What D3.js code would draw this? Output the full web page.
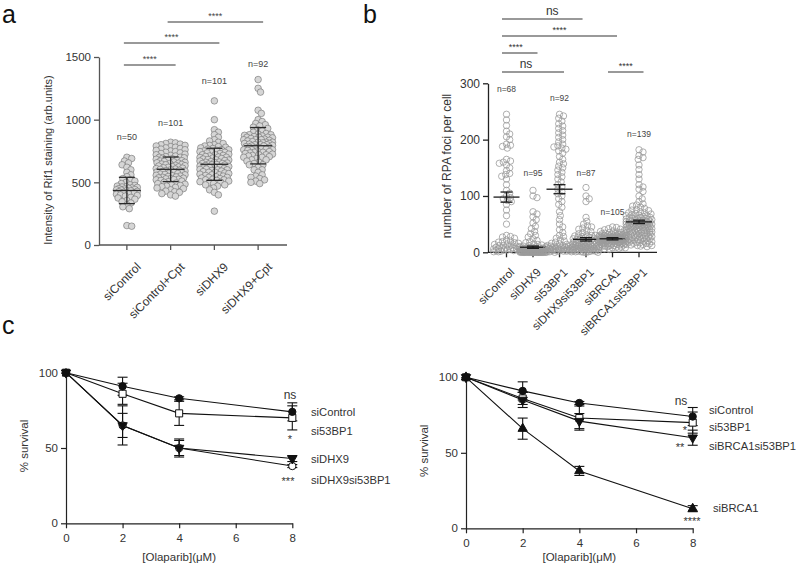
<!DOCTYPE html>
<html><head><meta charset="utf-8">
<script src="https://cdn.jsdelivr.net/npm/d3@7/dist/d3.min.js"></script>
<style>body{margin:0;background:#fff}svg{font-family:"Liberation Sans",Arial,sans-serif}</style>
</head><body><svg id="fig" width="796" height="563"></svg>
<script>
// ---------- Panel a data ----------
const aCategories = ["siControl","siControl+Cpt","siDHX9","siDHX9+Cpt"];
const aN = [50,101,101,92];
const aMean = [435,604,644,792];
const aSD = [105,98,128,145];
const aCtrl = [150,155,290,305,320,335,345,355,365,375,380,390,395,400,405,410,415,420,425,428,432,435,438,440,443,446,450,453,456,460,463,466,470,475,480,490,500,510,520,530,545,560,580,600,620,640,655,670,690,700];
const aCtrlCpt = [390,400,410,420,425,430,440,450,455,460,465,470,475,480,485,490,495,500,505,510,515,520,522,525,528,530,533,536,540,543,546,550,553,556,560,563,566,570,573,576,580,583,586,590,593,596,600,603,606,610,613,616,620,623,626,630,633,636,640,643,646,650,653,656,660,663,666,670,673,676,680,684,688,692,696,700,705,710,715,720,725,730,735,740,745,750,755,760,765,770,775,780,785,790,795,800,805,810,815,820,700];
const aDHX9 = [270,400,420,440,455,470,480,490,500,505,510,515,520,525,530,535,540,545,550,555,560,565,570,575,580,585,590,595,600,603,606,610,614,618,622,626,630,634,638,642,646,650,654,658,662,666,670,674,678,682,686,690,694,698,702,706,710,715,720,725,730,735,740,745,750,755,760,765,770,775,780,785,790,795,800,810,820,830,840,860,880,900,920,1000,1150,600,620,640,660,680,560,580,540,520,500,480,700,720,740,760,650];
const aDHX9Cpt = [490,500,510,520,530,540,550,560,580,600,620,640,650,660,670,680,690,700,705,710,715,720,725,730,735,740,745,750,755,760,765,770,775,780,785,790,795,800,805,810,815,820,825,830,835,840,845,850,855,860,865,870,875,880,885,890,900,910,920,930,940,950,960,970,985,1000,1050,1075,1220,1250,1320,760,780,800,820,840,860,740,720,700,680,820,800,780,760,860,880,640,600,840,810,790];
const aValues = [aCtrl,aCtrlCpt,aDHX9,aDHX9Cpt];
const aTicks = [0,500,1000,1500];
const aSig = [[0,1,"****"],[0,2,"****"],[1,3,"****"]];

// ---------- Panel b data ----------
const bCategories = ["siControl","siDHX9","si53BP1","siDHX9si53BP1","siBRCA1","siBRCA1si53BP1"];
const bN = [68,95,92,87,105,139];
const bMean = [98,9,112,23,24,54];
const bSEM = [9,2,8,3,2,3];
const bCtrl = [245,235,225,215,210,205,200,192,190,188,185,165,162,160,158,155,150,145,140,138,135,130,120,110,105,100,97,95,92,90,85,75,65,50,30,28,27,25,22,20,19,18,17,16,15,14,13,12,12,11,10,10,9,8,8,7,6,6,5,5,4,4,3,3,2,2,1,1];
const bDHX9 = [110,100,97,72,68,63,58,52,46,42,37,33,30,27,24,21,19,17,15,14,13,12,11,10,9,9,8,8,8,7,7,7,7,6,6,6,6,5,5,5,5,5,4,4,4,4,4,4,3,3,3,3,3,3,3,2,2,2,2,2,2,2,2,1,1,1,1,1,1,1,1,1,1,0,0,0,0,0,0,0,0,0,0,0,0,0,0,0,0,0,0,0,0,0,0];
const b53 = [245,242,238,233,228,224,220,216,212,208,204,200,196,192,189,187,185,183,180,176,170,165,160,157,153,150,146,142,138,134,130,125,120,116,112,108,104,100,95,90,85,80,72,65,58,50,45,40,35,30,28,25,22,20,18,16,15,14,13,12,12,11,11,10,10,9,9,8,8,8,7,7,7,6,6,6,5,5,5,4,4,4,3,3,3,2,2,2,1,1,0,0];
const bDHX9s53 = [115,100,95,90,62,55,50,47,45,43,41,39,37,35,33,31,30,29,28,27,26,25,24,23,22,21,20,20,19,19,18,18,17,17,16,16,15,15,14,14,13,13,12,12,11,11,10,10,10,9,9,9,8,8,8,7,7,7,6,6,6,5,5,5,4,4,4,3,3,3,2,2,2,1,1,1,0,0,0,30,28,26,24,22,20,18,16];
const bBRCA1 = [45,44,42,41,40,39,38,37,36,35,35,34,34,33,33,32,32,31,31,30,30,30,29,29,29,28,28,28,27,27,27,26,26,26,26,25,25,25,25,24,24,24,24,23,23,23,23,22,22,22,22,21,21,21,21,20,20,20,20,19,19,19,18,18,18,17,17,17,16,16,16,15,15,15,14,14,13,13,12,12,11,11,10,10,9,9,8,8,7,6,5,24,25,26,23,22,27,21,28,20,25,24,23,26,22];
const bBRCA1s53 = [182,178,172,168,165,155,147,138,130,120,116,112,108,100,95,90,86,84,82,80,78,76,75,74,72,70,69,68,67,66,65,64,63,62,61,60,60,59,58,57,56,56,55,54,54,53,52,52,51,50,50,49,48,48,47,46,46,45,44,44,43,42,42,41,40,40,39,38,38,37,36,36,35,34,34,33,32,32,31,30,30,29,28,28,27,26,26,25,24,24,23,22,22,21,20,20,19,18,18,17,16,16,15,14,14,13,12,12,11,10,45,50,55,60,35,40,30,25,65,70,48,52,44,56,38,42,58,62,46,54,50,36,33,28,20,22,47,53,49,51];
const bValues = [bCtrl,bDHX9,b53,bDHX9s53,bBRCA1,bBRCA1s53];
const bTicks = [0,100,200,300];
// [from index, to index (fractional allowed), label, level]
const bSig = [[0,2.7,"ns",0],[0,4,"****",1],[0,1,"****",2],[0,2,"ns",3],[4,5,"****",3]];

// ---------- Panel c data ----------
const cDoses = [0,2,4,8];
const cTicksX = [0,2,4,6,8];
const cTicksY = [0,50,100];
const cLeftSeries = ["siControl","si53BP1","siDHX9","siDHX9si53BP1"];
const cLeftCtrl = [100,91,83,74];   const cLeftCtrlErr = [0,6,1,6];
const cLeft53 = [100,86,73,70];     const cLeft53Err = [0,7,8,8];
const cLeftDHX9 = [100,65,50,43];   const cLeftDHX9Err = [0,8,5,2];
const cLeftDS = [100,65,50,38];     const cLeftDSErr = [0,13,6,1];
const cLeftSig = ["ns","*","","***"];
const cRightSeries = ["siControl","si53BP1","siBRCA1si53BP1","siBRCA1"];
const cRightCtrl = [100,91,83,74];  const cRightCtrlErr = [0,6,1,6];
const cRight53 = [100,86,73,70];    const cRight53Err = [0,4,8,7];
const cRightBS = [100,85,71,60];    const cRightBSErr = [0,5,5,5];
const cRightBRCA1 = [100,66,38,13]; const cRightBRCA1Err = [0,7,3,2];
const cRightSig = ["ns","*","**","****"];

const svg = d3.select("#fig");
const axisCol = "#555", txtCol = "#333";
const FONT = "Liberation Sans, Arial, sans-serif";

function panelLetter(t,x,y){svg.append("text").attr("x",x).attr("y",y).attr("font-size",25).attr("fill","#111").text(t);}

function swarm(vals, y, cx, minD, maxW){
  const pts = vals.map(v=>({v, y:y(v)})).sort((a,b)=>a.y-b.y);
  const placed=[];
  for(const p of pts){
    let best=0, bestScore=-1;
    for(let k=0;;k++){
      const off=(k%2?1:-1)*Math.ceil(k/2)*0.8;
      if(Math.abs(off)>maxW) break;
      let md=Infinity;
      for(const q of placed){const dy=q.y-p.y; if(Math.abs(dy)<minD){md=Math.min(md,Math.hypot(q.off-off,dy));}}
      if(md>=minD){best=off;bestScore=Infinity;break;}
      if(md>bestScore){bestScore=md;best=off;}
    }
    p.off=best; placed.push(p);
  }
  return pts.map(p=>({x:cx+p.off,y:p.y}));
}

// ================= Panel a =================
panelLetter("a",2,23);
{
  const x = d3.scaleBand().domain(aCategories).range([105,280]);
  const xc = c=>x(c)+x.bandwidth()/2;
  const y = d3.scaleLinear().domain([0,1500]).range([245,57]);
  const g = svg.append("g");
  const ya = g.append("g").attr("transform","translate(99,0)").call(d3.axisLeft(y).tickValues(aTicks).tickFormat(d3.format("d")).tickSize(5).tickSizeOuter(0));
  ya.select(".domain").attr("stroke",axisCol).attr("stroke-width",1.3);
  ya.selectAll(".tick line").attr("stroke",axisCol).attr("stroke-width",1.3);
  ya.selectAll(".tick text").attr("font-size",11.5).attr("fill",txtCol).attr("font-family",FONT);
  g.append("line").attr("x1",99).attr("x2",287).attr("y1",245).attr("y2",245).attr("stroke",axisCol).attr("stroke-width",1.3);
  const xa = g.append("g").attr("transform","translate(0,245)").call(d3.axisBottom(x).tickSize(5).tickSizeOuter(0));
  xa.select(".domain").remove();
  xa.selectAll(".tick line").attr("stroke",axisCol).attr("stroke-width",1.3);
  xa.selectAll(".tick text").attr("font-size",12).attr("fill",txtCol).attr("font-family",FONT)
    .attr("text-anchor","end").attr("dy",0).attr("transform","translate(9,17) rotate(-45)");
  g.append("text").attr("transform","translate(52,160) rotate(-90)").attr("text-anchor","middle")
    .attr("font-size",11).attr("fill",txtCol).text("Intensity of Rif1 staining (arb.units)");
  const nOff=[20,19,20,16];
  aCategories.forEach((c,i)=>{
    const pts = swarm(aValues[i], y, xc(c), 4.2, i===0?11:15);
    g.append("g").selectAll("circle").data(pts).join("circle").attr("cx",d=>d.x).attr("cy",d=>d.y).attr("r",3.3)
      .attr("fill","#d6d6d6").attr("stroke","#6d6d6d").attr("stroke-width",0.6);
    const cx = xc(c);
    const eg = g.append("g").attr("stroke","#2a2a2a").attr("stroke-width",1.3);
    eg.append("line").attr("x1",cx-14).attr("x2",cx+14).attr("y1",y(aMean[i])).attr("y2",y(aMean[i]));
    eg.append("line").attr("x1",cx).attr("x2",cx).attr("y1",y(aMean[i]-aSD[i])).attr("y2",y(aMean[i]+aSD[i]));
    [aMean[i]-aSD[i],aMean[i]+aSD[i]].forEach(v=>eg.append("line").attr("x1",cx-8).attr("x2",cx+8).attr("y1",y(v)).attr("y2",y(v)));
    g.append("text").attr("x",cx).attr("y",y(d3.max(aValues[i]))-nOff[i]+3).attr("text-anchor","middle").attr("font-size",9).attr("fill","#444").text("n="+aN[i]);
  });
  const lvls=[65,43,22];
  aSig.forEach((s,k)=>{
    const x1=xc(aCategories[s[0]])-3, x2=xc(aCategories[s[1]])+5;
    g.append("line").attr("x1",x1).attr("x2",x2).attr("y1",lvls[k]).attr("y2",lvls[k]).attr("stroke","#777").attr("stroke-width",1.4);
    g.append("text").attr("x",(x1+x2)/2).attr("y",lvls[k]-3).attr("text-anchor","middle").attr("font-size",9).attr("fill","#444").text(s[2]);
  });
}

// ================= Panel b =================
panelLetter("b",363,23);
{
  const x = d3.scaleBand().domain(bCategories).range([493.25,652.25]);
  const step = x.step();
  const xc = c=>x(c)+x.bandwidth()/2;
  const y = d3.scaleLinear().domain([0,300]).range([252.3,83.3]);
  const g = svg.append("g");
  const ya = g.append("g").attr("transform","translate(488,0)").call(d3.axisLeft(y).tickValues(bTicks).tickSize(5).tickSizeOuter(0));
  ya.select(".domain").attr("stroke","#222").attr("stroke-width",1.3);
  ya.selectAll(".tick line").attr("stroke","#222").attr("stroke-width",1.3);
  ya.selectAll(".tick text").attr("font-size",12).attr("fill",txtCol).attr("font-family",FONT);
  g.append("line").attr("x1",488).attr("x2",657).attr("y1",252.3).attr("y2",252.3).attr("stroke","#222").attr("stroke-width",1.3);
  const xa = g.append("g").attr("transform","translate(0,252.3)").call(d3.axisBottom(x).tickSize(5).tickSizeOuter(0));
  xa.select(".domain").remove();
  xa.selectAll(".tick line").attr("stroke","#222").attr("stroke-width",1.3);
  xa.selectAll(".tick text").attr("font-size",11.5).attr("fill",txtCol).attr("font-family",FONT)
    .attr("text-anchor","end").attr("dy",0).attr("transform","translate(3,15) rotate(-45)");
  g.append("text").attr("transform","translate(451,166) rotate(-90)").attr("text-anchor","middle")
    .attr("font-size",12).attr("fill",txtCol).text("number of RPA foci per cell");
  const nOff=[25,17,16,15,15,16];
  bCategories.forEach((c,i)=>{
    const cx=xc(c);
    const pts = swarm(bValues[i], y, cx, 4.0, 13);
    g.append("g").selectAll("circle").data(pts).join("circle").attr("cx",d=>d.x).attr("cy",d=>d.y).attr("r",3.2)
      .attr("fill","none").attr("stroke","#9a9a9a").attr("stroke-width",0.8);
    const eg = g.append("g").attr("stroke","#1a1a1a").attr("stroke-width",1.3);
    eg.append("line").attr("x1",cx-13).attr("x2",cx+13).attr("y1",y(bMean[i])).attr("y2",y(bMean[i]));
    eg.append("line").attr("x1",cx).attr("x2",cx).attr("y1",y(bMean[i]-bSEM[i])).attr("y2",y(bMean[i]+bSEM[i]));
    [bMean[i]-bSEM[i],bMean[i]+bSEM[i]].forEach(v=>eg.append("line").attr("x1",cx-6).attr("x2",cx+6).attr("y1",y(v)).attr("y2",y(v)));
    g.append("text").attr("x",cx).attr("y",y(d3.max(bValues[i]))-nOff[i]+3).attr("text-anchor","middle").attr("font-size",8.5).attr("fill","#444").text("n="+bN[i]);
  });
  const pos = f=>xc(bCategories[0])+f*step;
  const lv=[19,36,53,72];
  bSig.forEach(s=>{
    const x1=pos(s[0])-4.5, x2=pos(s[1])+4.5, yy=lv[s[3]];
    g.append("line").attr("x1",x1).attr("x2",x2).attr("y1",yy).attr("y2",yy).attr("stroke","#777").attr("stroke-width",1.4);
    const big = s[2]==="ns";
    g.append("text").attr("x",(x1+x2)/2+(big?(s[1]>2.5?10:-7):(s[1]-s[0]===1&&s[0]===0?-4:0))).attr("y",yy-(big?4:3))
      .attr("text-anchor","middle").attr("font-size",big?12:9).attr("fill","#333").text(s[2]);
  });
}

// ================= Panel c =================
panelLetter("c",2,334);
function survival(opts){
  const x = d3.scaleLinear().domain([0,8]).range([opts.x0,opts.x1]);
  const y = d3.scaleLinear().domain([0,100]).range([opts.y0,opts.y1]);
  const g = svg.append("g");
  const ya = g.append("g").attr("transform","translate("+opts.x0+",0)").call(d3.axisLeft(y).tickValues(cTicksY).tickSize(5).tickSizeOuter(0));
  const xa = g.append("g").attr("transform","translate(0,"+opts.y0+")").call(d3.axisBottom(x).tickValues(cTicksX).tickSize(5).tickSizeOuter(0));
  [ya,xa].forEach(a=>{a.select(".domain").attr("stroke","#222").attr("stroke-width",1.2);
    a.selectAll(".tick line").attr("stroke","#222").attr("stroke-width",1.2);
    a.selectAll(".tick text").attr("font-size",11.5).attr("fill",txtCol).attr("font-family",FONT);});
  xa.selectAll(".tick text").attr("dy","0.9em");
  g.append("text").attr("x",(opts.x0+opts.x1)/2).attr("y",561).attr("text-anchor","middle").attr("font-size",11.5).attr("fill",txtCol).text("[Olaparib](μM)");
  g.append("text").attr("transform","translate("+opts.ylx+","+((opts.y0+opts.y1)/2-2)+") rotate(-90)").attr("text-anchor","middle").attr("font-size",11.5).attr("fill",txtCol).text("% survival");
  const line = d3.line().x((d,i)=>x(cDoses[i])).y(d=>y(d));
  opts.series.forEach(s=>{
    g.append("path").attr("d",line(s.v)).attr("fill","none").attr("stroke","#111").attr("stroke-width",1.1);
  });
  opts.series.forEach(s=>{
    s.v.forEach((v,i)=>{ if(!s.e[i]) return;
      const cx=x(cDoses[i]);
      g.append("line").attr("x1",cx).attr("x2",cx).attr("y1",y(v-s.e[i])).attr("y2",y(v+s.e[i])).attr("stroke","#111").attr("stroke-width",1.1);
      [v-s.e[i],v+s.e[i]].forEach(w=>g.append("line").attr("x1",cx-5).attr("x2",cx+5).attr("y1",y(w)).attr("y2",y(w)).attr("stroke","#111").attr("stroke-width",1.1));
    });
  });
  const isOpen = m=>m==="square"||m==="ocircle";
  const ordered = opts.series.filter(s=>isOpen(s.m)).concat(opts.series.filter(s=>!isOpen(s.m)));
  ordered.forEach(s=>{
    g.append("g").selectAll("path").data(s.v).join("path")
      .attr("transform",(d,i)=>"translate("+x(cDoses[i])+","+y(d)+")"+(s.m==="down"?" rotate(180)":""))
      .attr("d",d3.symbol().type(s.m==="circle"||s.m==="ocircle"?d3.symbolCircle:(s.m==="square"?d3.symbolSquare:d3.symbolTriangle)).size(s.m==="square"?50:(s.m==="circle"||s.m==="ocircle"?42:38)))
      .attr("fill",isOpen(s.m)?"#fff":"#111").attr("stroke","#111").attr("stroke-width",1);
  });
  opts.labels.forEach(l=>g.append("text").attr("x",l[1]).attr("y",l[2]).attr("dy","0.35em").attr("font-size",11.2).attr("fill",txtCol).text(l[0]));
  opts.sigs.forEach(l=>{ if(!l[0]) return; g.append("text").attr("x",l[1]).attr("y",l[2]).attr("dy","0.35em").attr("text-anchor","middle").attr("font-size",l[0]==="ns"?12:11).attr("fill",txtCol).text(l[0]);});
}
survival({x0:66,x1:292.3,y0:523.3,y1:372.7,ylx:28,
  series:[{v:cLeftCtrl,e:cLeftCtrlErr,m:"circle"},{v:cLeft53,e:cLeft53Err,m:"square"},{v:cLeftDHX9,e:cLeftDHX9Err,m:"down"},{v:cLeftDS,e:cLeftDSErr,m:"ocircle"}],
  labels:[[cLeftSeries[0],311,412],[cLeftSeries[1],311,431],[cLeftSeries[2],311,459],[cLeftSeries[3],311,480]],
  sigs:[[cLeftSig[0],290,395],[cLeftSig[1],290,439],[cLeftSig[2],0,0],[cLeftSig[3],288,481]]});
survival({x0:466,x1:692.7,y0:528.3,y1:377.3,ylx:428,
  series:[{v:cRightCtrl,e:cRightCtrlErr,m:"circle"},{v:cRight53,e:cRight53Err,m:"square"},{v:cRightBS,e:cRightBSErr,m:"down"},{v:cRightBRCA1,e:cRightBRCA1Err,m:"up"}],
  labels:[[cRightSeries[0],709,410],[cRightSeries[1],709,427],[cRightSeries[2],709,446],[cRightSeries[3],713,508]],
  sigs:[[cRightSig[0],681,401],[cRightSig[1],685,430],[cRightSig[2],680,447],[cRightSig[3],692,521]]});
</script></body></html>
